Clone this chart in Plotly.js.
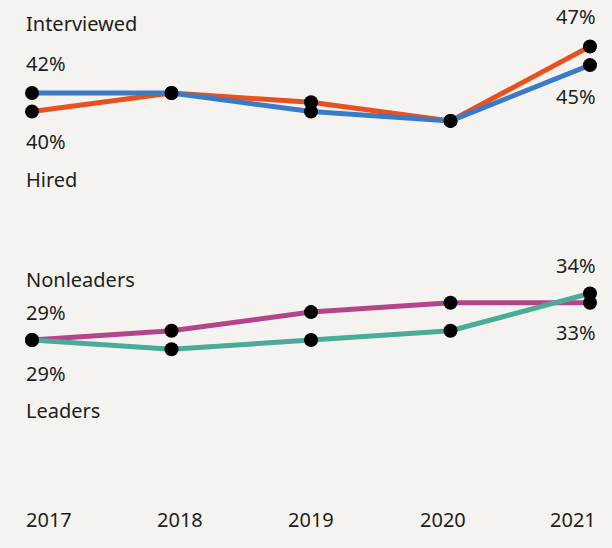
<!DOCTYPE html>
<html>
<head>
<meta charset="utf-8">
<script src="https://cdn.plot.ly/plotly-3.0.1.min.js"></script>
<style>html,body{margin:0;padding:0;background:#f4f3ef;}#chart{width:612px;height:548px;}</style>
</head>
<body>
<div id="chart"></div>
<script>
const years = [2017, 2018, 2019, 2020, 2021];
const yearLabels = ["2017", "2018", "2019", "2020", "2021"];
const interviewed = [42, 42, 40, 39, 45];
const hired = [40, 42, 41, 39, 47];
const nonleaders = [29, 30, 32, 33, 33];
const leaders = [29, 28, 29, 30, 34];

const PX = 9.3, H = 548;
const top1 = 42 + 93 / PX;
const top2 = 29 + 340 / PX;
const span = H / PX;

function line(y, color, axis) {
  return {x: years, y: y, yaxis: axis, type: 'scatter', mode: 'lines+markers',
    line: {color: color, width: 5}, marker: {color: '#000', size: 14},
    cliponaxis: false, hoverinfo: 'skip'};
}
const data = [
  line(hired, '#e8501f', 'y'),
  line(interviewed, '#3a7bc8', 'y'),
  line(nonleaders, '#b5458b', 'y2'),
  line(leaders, '#4aab99', 'y2')
];
const f = {family: 'Noto Sans, Open Sans, sans-serif', size: 20, color: '#1e1e1e'};
const last = years.length - 1;
function ann(text, x, y, yref, yshift, side) {
  return {text: text, x: x, y: y, xref: 'x', yref: yref, yshift: yshift,
    xanchor: side, xshift: side === 'left' ? -8 : 8, yanchor: 'middle',
    showarrow: false, font: f};
}
const pct = v => v + '%';
const annotations = [
  ann('Interviewed', years[0], interviewed[0], 'y', 70, 'left'),
  ann(pct(interviewed[0]), years[0], interviewed[0], 'y', 30, 'left'),
  ann(pct(hired[0]), years[0], hired[0], 'y', -30, 'left'),
  ann('Hired', years[0], hired[0], 'y', -68, 'left'),
  ann(pct(hired[last]), years[last], hired[last], 'y', 30, 'right'),
  ann(pct(interviewed[last]), years[last], interviewed[last], 'y', -31, 'right'),
  ann('Nonleaders', years[0], nonleaders[0], 'y2', 61, 'left'),
  ann(pct(nonleaders[0]), years[0], nonleaders[0], 'y2', 28, 'left'),
  ann(pct(leaders[0]), years[0], leaders[0], 'y2', -33, 'left'),
  ann('Leaders', years[0], leaders[0], 'y2', -70, 'left'),
  ann(pct(leaders[last]), years[last], leaders[last], 'y2', 28, 'right'),
  ann(pct(nonleaders[last]), years[last], nonleaders[last], 'y2', -30, 'right')
];
const yearShift = [-8, 8, 0, -8, 8];
yearLabels.forEach((t, i) => {
  annotations.push({text: t, x: years[i], xref: 'x', y: 1 - 519 / H, yref: 'paper',
    xanchor: i === 0 ? 'left' : (i === last ? 'right' : 'center'),
    xshift: yearShift[i], yanchor: 'middle', showarrow: false, font: f});
});
const layout = {
  width: 612, height: 548,
  margin: {l: 32, r: 22, t: 0, b: 0},
  paper_bgcolor: '#f4f3ef', plot_bgcolor: '#f4f3ef',
  showlegend: false,
  xaxis: {range: [2017, 2021], visible: false, fixedrange: true},
  yaxis: {range: [top1 - span, top1], visible: false, fixedrange: true},
  yaxis2: {range: [top2 - span, top2], overlaying: 'y', visible: false, fixedrange: true},
  annotations: annotations
};
Plotly.newPlot('chart', data, layout, {displayModeBar: false, staticPlot: true});
</script>
</body>
</html>
